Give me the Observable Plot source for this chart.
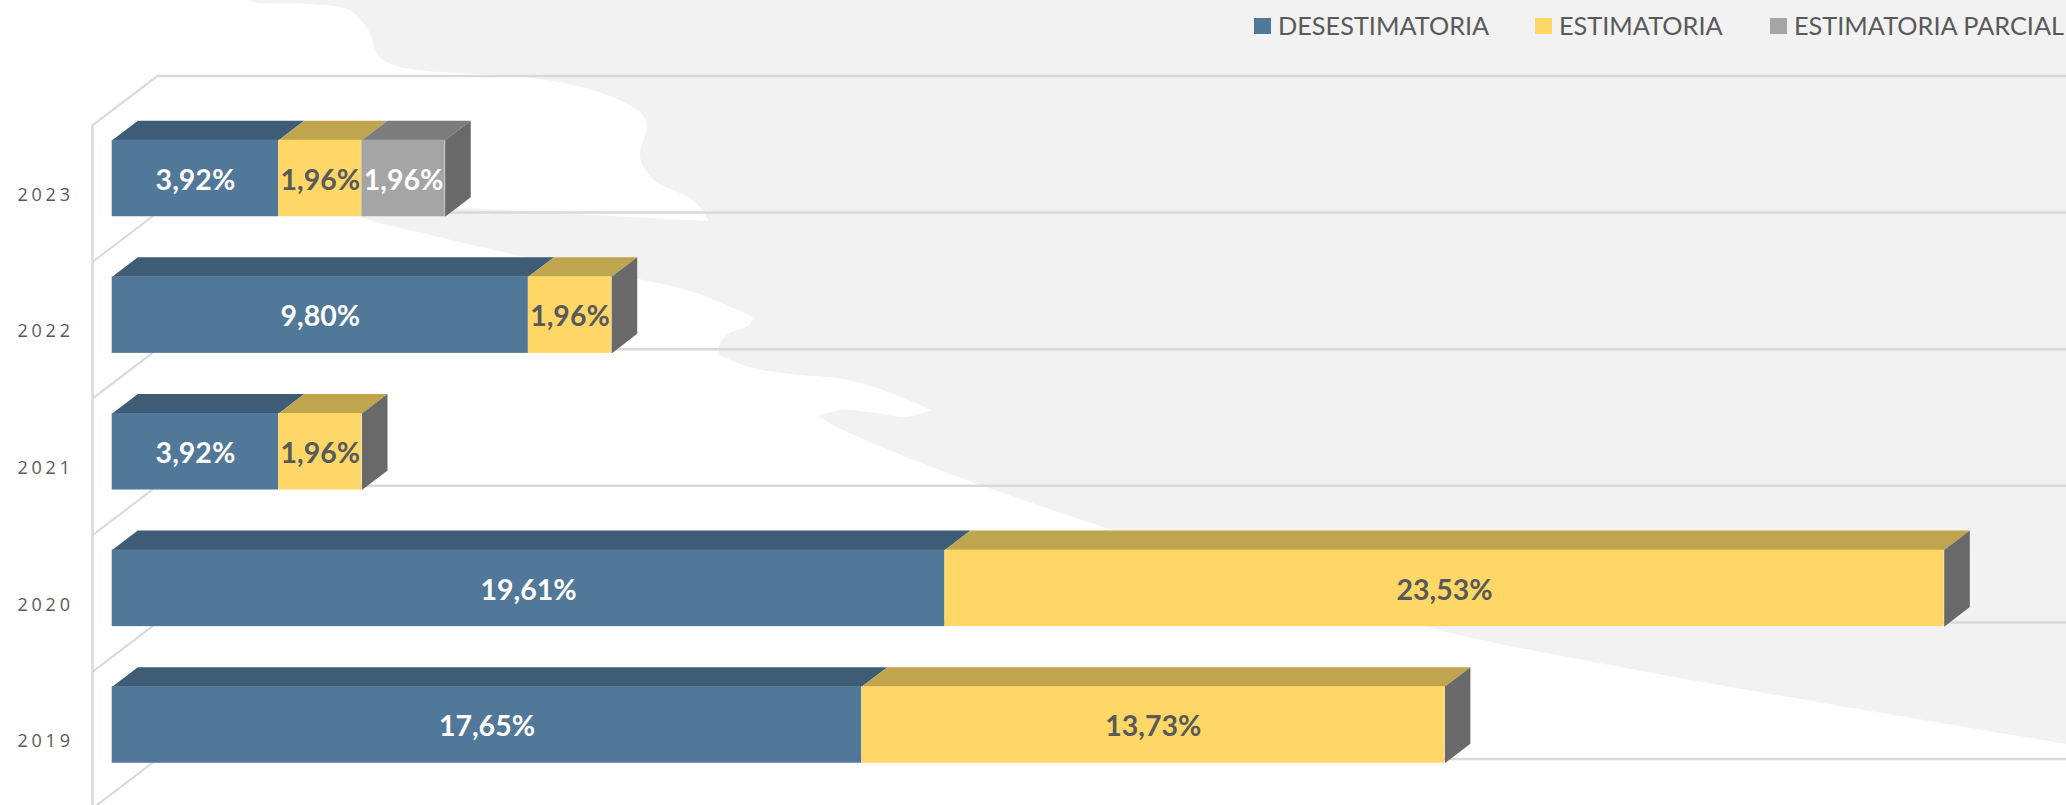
<!DOCTYPE html>
<html lang="es">
<head>
<meta charset="utf-8">
<title>Resoluciones por año</title>
<script src="https://cdn.jsdelivr.net/npm/d3@7"></script>
<script src="https://cdn.jsdelivr.net/npm/@observablehq/plot@0.6"></script>
<style>
html,body{margin:0;padding:0;background:#fff}
#stage{position:relative;width:2066px;height:805px;overflow:hidden;background:#fff}
#backdrop{position:absolute;left:0;top:0}
#chart{position:absolute;left:0;top:0}
#chart svg{display:block}
.key{position:absolute;top:0;font:25.3px Lato,sans-serif;color:#595959;white-space:nowrap;line-height:50px}
.key i{position:absolute;top:18px;width:17px;height:16px}
</style>
</head>
<body>
<div id="stage">
<svg id="backdrop" width="2066" height="805"></svg>
<div id="chart"></div>
</div>
<script>
// ---- data ----
const years = [2019, 2020, 2021, 2022, 2023];
const desestimatoria = [17.65, 19.61, 3.92, 9.80, 3.92];
const estimatoria = [13.73, 23.53, 1.96, 1.96, 1.96];
const estimatoriaParcial = [0, 0, 0, 0, 1.96];
const seriesNames = ["DESESTIMATORIA", "ESTIMATORIA", "ESTIMATORIA PARCIAL"];

// ---- styles ----
const frontColor = ["#527899", "#FFD766", "#A5A5A5"];
const topColor = ["#3F5C76", "#BFA54D", "#7C7C7C"];
const labelColor = ["#ffffff", "#595959", "#ffffff"];
const sideColor = "#696969";
const gridColor = "#d9d9d9";
const legendLeft = [1254, 1535, 1770];
const fmt = v => v.toFixed(2).replace(".", ",") + "%";

// 3D look, expressed in data units (percent on x, years on y)
const halfBar = 0.28, depthX = 0.603, depthY = 0.143;
const wallFrontLift = -0.111, wallBackLift = 0.251;
const wallFrontX = -0.464, wallBackX = 1.066;
const xMax = 46.02;

// ---- derived tables ----
const allSeries = [desestimatoria, estimatoria, estimatoriaParcial];
const segments = [];
years.forEach((year, i) => {
  let start = 0;
  allSeries.forEach((values, s) => {
    if (values[i] > 0) {
      segments.push({year, s, value: values[i], x1: start, x2: start + values[i]});
      start += values[i];
    }
  });
});
const topFaces = segments.flatMap((d, k) => [
  [d.x1, d.year + halfBar], [d.x2, d.year + halfBar],
  [d.x2 + depthX, d.year + halfBar + depthY], [d.x1 + depthX, d.year + halfBar + depthY],
  [d.x1, d.year + halfBar]
].map(([x, y]) => ({x, y, id: k, fill: topColor[d.s]})));
const sideFaces = years.flatMap(year => {
  const end = d3.max(segments.filter(d => d.year === year), d => d.x2);
  return [
    [end, year + halfBar], [end + depthX, year + halfBar + depthY],
    [end + depthX, year - halfBar + depthY], [end, year - halfBar], [end, year + halfBar]
  ].map(([x, y]) => ({x, y, id: year}));
});
const boundaries = [...years.map(y => y - 0.5), years[years.length - 1] + 0.5];

// ---- decorative page background (gray shape behind the chart) ----
const edge = [
  [[245,-2],[257,3],[285,3],[310,4],[349,10],[368,30],[378,55],[393,65],[427,71],[460,73],[533,78],[596,91],[640,112],[647,125],[640,157],[654,180],[693,200],[709,221]],
  [[709,221],[630,217],[557,213],[465,208],[400,206],[350,210]],
  [[350,210],[361,217],[422,233],[494,250],[554,264],[638,279],[696,293],[753,317]],
  [[753,317],[749,325],[730,333],[720,343],[718.6,355]],
  [[718.6,355],[753,368],[791,374],[849,380],[891,393],[931,410]],
  [[931,410],[906,417],[875,413],[841,410],[818,416]],
  [[818,416],[837,427],[906,457],[975,483]],
  [[975,483],[1109,529],[1424,626],[1481,640],[1691,680],[1935,722],[2066,744]]
];
const curve = d3.line().curve(d3.curveCatmullRom.alpha(0.5));
const d = edge.map((seg, i) => {
  const p = curve(seg);
  return i === 0 ? p : p.replace(/^M[^C]*C/, "C");
}).join("") + "L2066,-2Z";
d3.select("#backdrop").append("path").attr("d", d).attr("fill", "#f2f2f2");

// ---- chart ----
const chart = Plot.plot({
  width: 2066,
  height: 805,
  marginLeft: 92,
  marginRight: 0,
  marginTop: 0,
  marginBottom: 0,
  style: {background: "transparent", overflow: "visible"},
  x: {domain: [0, xMax], range: [111.7, 2066], axis: null},
  y: {domain: [2019, 2023], range: [724.5, 178], axis: null},
  color: {type: "identity"},
  marks: [
    // back wall gridlines
    Plot.ruleY(boundaries, {
      y: d => d + wallBackLift, x1: wallBackX, x2: xMax,
      stroke: gridColor, strokeWidth: 2.5
    }),
    // wall diagonals
    Plot.link(boundaries, {
      x1: () => wallFrontX, x2: () => wallBackX,
      y1: d => d + wallFrontLift, y2: d => d + wallBackLift,
      stroke: gridColor, strokeWidth: 2
    }),
    // front edge of the wall
    Plot.ruleX([wallFrontX], {
      y1: boundaries[0] + wallFrontLift,
      y2: boundaries[boundaries.length - 1] + wallFrontLift,
      stroke: gridColor, strokeWidth: 2.5
    }),
    // top and side faces
    Plot.line(topFaces, {x: "x", y: "y", z: "id", fill: "fill", stroke: "none", curve: "linear"}),
    Plot.line(sideFaces, {x: "x", y: "y", z: "id", fill: sideColor, stroke: "none", curve: "linear"}),
    // front faces
    Plot.rect(segments, {
      x1: "x1", x2: "x2",
      y1: d => d.year - halfBar, y2: d => d.year + halfBar,
      fill: d => frontColor[d.s]
    }),
    // value labels
    Plot.text(segments, {
      x: d => (d.x1 + d.x2) / 2, y: "year", text: d => fmt(d.value),
      fill: d => labelColor[d.s],
      fontFamily: "Lato, sans-serif", fontWeight: 700, fontSize: 28.5, dy: 2
    }),
    // year axis
    Plot.axisY(years, {
      anchor: "left", tickSize: 0, tickPadding: 18.7, tickFormat: d => String(d),
      dy: 16.5, fontFamily: "'Open Sans', sans-serif", fontSize: 18, fill: "#595959",
      label: null
    })
  ]
});
document.getElementById("chart").append(chart);
d3.select(chart).selectAll("text")
  .filter(function () { return years.map(String).includes(this.textContent); })
  .style("letter-spacing", "3.8px");

// ---- legend ----
const stage = document.getElementById("stage");
seriesNames.forEach((name, i) => {
  const el = document.createElement("div");
  el.className = "key";
  el.style.left = (legendLeft[i] + 24) + "px";
  el.textContent = name;
  const sw = document.createElement("i");
  sw.style.left = "-24px";
  sw.style.background = frontColor[i];
  el.append(sw);
  stage.append(el);
});
</script>
</body>
</html>
